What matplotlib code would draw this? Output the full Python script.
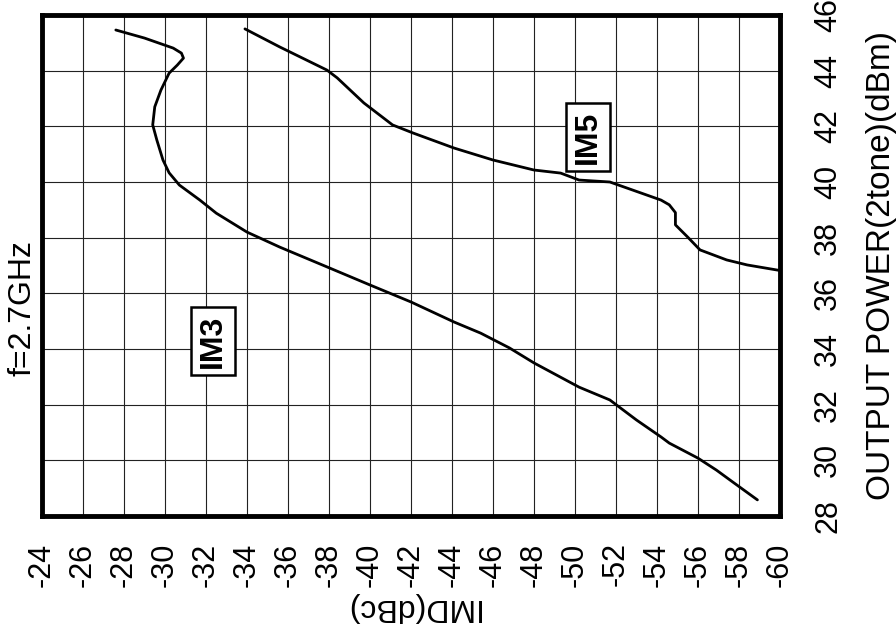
import matplotlib.pyplot as plt

plt.rcParams['font.family'] = ['Liberation Sans', 'DejaVu Sans']
plt.rcParams['axes.unicode_minus'] = False

# IMD (dBc) versus output power (dBm)
im3_imd = [-27.6, -29.0, -30.4, -30.8, -30.9, -30.6, -30.2, -29.8, -29.5, -29.4,
           -29.6, -29.9, -30.2, -30.7, -31.7, -32.5, -34.0, -35.6, -37.9, -40.0,
           -42.0, -44.1, -45.4, -46.8, -48.0, -50.2, -51.7, -53.0, -54.2, -54.6,
           -56.0, -56.9, -57.7, -58.9]
im3_pout = [45.46, 45.17, 44.81, 44.63, 44.45, 44.20, 43.91, 43.30, 42.70, 42.05,
            41.51, 40.79, 40.33, 39.89, 39.35, 38.88, 38.20, 37.66, 36.95, 36.30,
            35.69, 34.97, 34.57, 34.04, 33.50, 32.63, 32.17, 31.45, 30.84, 30.62,
            30.08, 29.65, 29.22, 28.58]

im5_imd = [-33.9, -35.6, -37.9, -38.4, -39.7, -41.1, -42.1, -44.1, -46.0, -48.0,
           -49.3, -50.2, -51.7, -54.2, -54.6, -54.9, -54.9, -55.5, -56.1, -57.4,
           -58.4, -60.0]
im5_pout = [45.50, 44.85, 44.02, 43.74, 42.84, 42.05, 41.76, 41.22, 40.79, 40.43,
            40.32, 40.07, 40.00, 39.35, 39.18, 38.90, 38.46, 38.02, 37.56, 37.20,
            37.02, 36.82]

imd_ticks = list(range(-24, -61, -2))
pout_ticks = list(range(28, 47, 2))

fig = plt.figure(figsize=(8.96, 6.29), dpi=100)
ax = fig.add_axes([0.0469, 0.1796, 0.8236, 0.7966])

ax.plot(im3_imd, im3_pout, color='black', lw=2.0, solid_capstyle='round',
        solid_joinstyle='round')
ax.plot(im5_imd, im5_pout, color='black', lw=2.0, solid_capstyle='round',
        solid_joinstyle='round')

ax.set_xlim(-24, -60)
ax.set_ylim(28, 46)
ax.set_xticks(imd_ticks)
ax.set_yticks(pout_ticks)
ax.grid(True, color='#222222', lw=0.8)
ax.set_axisbelow(True)

for s in ax.spines.values():
    s.set_linewidth(3.5)

ax.yaxis.tick_right()
ax.yaxis.set_label_position('right')
ax.tick_params(axis='x', length=0, pad=19, labelsize=22, labelrotation=90)
ax.tick_params(axis='y', length=0, pad=24, labelsize=22, labelrotation=90)
for t in ax.get_yticklabels():
    t.set_va('center')

ax.set_xlabel('IMD(dBc)', fontsize=23, rotation=180, labelpad=4)
ax.set_ylabel('OUTPUT POWER(2tone)(dBm)', fontsize=24, rotation=90, labelpad=16)

ax.text(-0.027, 0.415, 'f=2.7GHz', transform=ax.transAxes, rotation=90,
        fontsize=23, ha='center', va='center')

box = dict(boxstyle='square,pad=0.22', facecolor='white', edgecolor='black', lw=1.8)
ax.text(-32.34, 34.29, 'IM3', rotation=90, fontsize=23, fontweight='bold',
        ha='center', va='center', bbox=box)
ax.text(-50.63, 41.62, 'IM5', rotation=90, fontsize=23, fontweight='bold',
        ha='center', va='center', bbox=box)

plt.savefig('out.png', dpi=100)
